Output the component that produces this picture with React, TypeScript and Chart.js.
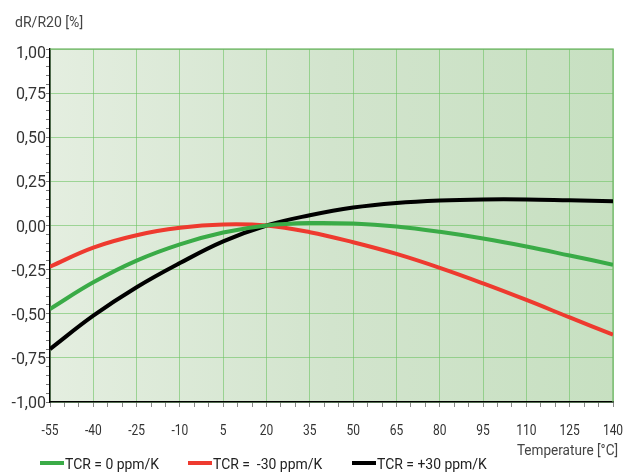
import { useEffect, useRef } from 'react';
import { Chart, registerables } from 'chart.js';

Chart.register(...registerables);

const temperatures = [-55, -40, -25, -10, 5, 20, 35, 50, 65, 80, 95, 110, 125, 140];
const tcrZero = [-0.473, -0.322, -0.199, -0.107, -0.04, 0, 0.014, 0.011, -0.006, -0.036, -0.074, -0.119, -0.17, -0.222];
const tcrMinus30 = [-0.233, -0.125, -0.055, -0.013, 0.006, 0, -0.038, -0.095, -0.161, -0.24, -0.328, -0.422, -0.521, -0.619];
const tcrPlus30 = [-0.7, -0.511, -0.35, -0.213, -0.09, 0, 0.058, 0.102, 0.128, 0.142, 0.148, 0.148, 0.143, 0.138];

const seriesLabels = ['TCR = 0 ppm/K', 'TCR =  -30 ppm/K', 'TCR = +30 ppm/K'];
const seriesColors = ['#3aab47', '#ee3a2f', '#000000'];
const seriesValues = [tcrZero, tcrMinus30, tcrPlus30];

const xTickValues = [-55, -40, -25, -10, 5, 20, 35, 50, 65, 80, 95, 110, 125, 140];
const xTickLabels = ['-55', '-40', '-25', '-10', '5', '20', '35', '50', '65', '80', '95', '110', '125', '140'];
const yTickValues = [1, 0.75, 0.5, 0.25, 0, -0.25, -0.5, -0.75, -1];
const yTickLabels = ['1,00', '0,75', '0,50', '0,25', '0,00', '-0,25', '-0,50', '-0,75', '-1,00'];

const yAxisTitle = 'dR/R20 [%]';
const xAxisTitle = 'Temperature [°C]';

const FONT = "Roboto, 'Liberation Sans', sans-serif";
const GRID = 'rgba(110, 195, 100, 0.6)';

const legendPos = [
  { line: 40, text: 65 },
  { line: 188, text: 213 },
  { line: 352, text: 377 },
];

function drawText(ctx: CanvasRenderingContext2D, text: string, x: number, y: number, align: 'left' | 'right' | 'center', size: number, sx: number, color: string) {
  ctx.save();
  ctx.font = `${size}px ${FONT}`;
  ctx.fillStyle = color;
  ctx.textBaseline = 'alphabetic';
  ctx.textAlign = 'left';
  const w = ctx.measureText(text).width * sx;
  let left = x;
  if (align === 'right') left = x - w;
  if (align === 'center') left = x - w / 2;
  ctx.translate(left, y);
  ctx.scale(sx, 1);
  ctx.fillText(text, 0, 0);
  ctx.restore();
}

const isMajor = (v: number, step: number, offset: number) => Math.abs((v - offset) / step - Math.round((v - offset) / step)) < 1e-6;

export default function App() {
  const ref = useRef<HTMLCanvasElement>(null);

  useEffect(() => {
    if (!ref.current) return;

    const decor = {
      id: 'decor',
      beforeDraw(chart: any) {
        const { ctx, chartArea: a } = chart;
        ctx.save();
        const g = ctx.createLinearGradient(a.left, 0, a.right, 0);
        g.addColorStop(0, '#e4eee0');
        g.addColorStop(0.5, '#d2e4cd');
        g.addColorStop(1, '#c7e0c1');
        ctx.fillStyle = g;
        ctx.fillRect(a.left, a.top, a.right - a.left, a.bottom - a.top);
        ctx.restore();
      },
      beforeDatasetsDraw(chart: any) {
        const { ctx, chartArea: a } = chart;
        ctx.save();
        ctx.strokeStyle = 'rgba(110, 180, 100, 0.8)';
        ctx.lineWidth = 1.5;
        ctx.beginPath();
        ctx.moveTo(a.left, a.top);
        ctx.lineTo(a.right, a.top);
        ctx.lineTo(a.right, a.bottom);
        ctx.stroke();
        ctx.restore();
      },
      afterDraw(chart: any) {
        const { ctx } = chart;
        const xs = chart.scales.x;
        const ys = chart.scales.y;
        xTickValues.forEach((v, i) => {
          drawText(ctx, xTickLabels[i], xs.getPixelForValue(v), 435, 'center', 15, 0.8, '#333');
        });
        yTickValues.forEach((v, i) => {
          const py = ys.getPixelForValue(v);
          drawText(ctx, yTickLabels[i], 46, Math.max(py + 6, 58), 'right', 16, 1, '#333');
        });
        drawText(ctx, yAxisTitle, 15, 27, 'left', 14.5, 0.97, '#444');
        drawText(ctx, xAxisTitle, 618, 455, 'right', 14, 0.97, '#444');
        seriesLabels.forEach((lab, i) => {
          ctx.save();
          ctx.fillStyle = seriesColors[i];
          ctx.fillRect(legendPos[i].line, 461, 24, 4);
          ctx.restore();
          drawText(ctx, lab, legendPos[i].text, 469, 'left', 15.5, 0.9, '#222');
        });
      },
    };

    const chart = new Chart(ref.current, {
      type: 'line',
      data: {
        datasets: seriesValues.map((vals, i) => ({
          label: seriesLabels[i],
          data: temperatures.map((t, j) => ({ x: t, y: vals[j] })),
          borderColor: seriesColors[i],
          backgroundColor: seriesColors[i],
          borderWidth: 4,
          pointRadius: 0,
          tension: 0.4,
          fill: false,
        })),
      },
      options: {
        animation: false,
        responsive: true,
        maintainAspectRatio: false,
        layout: { padding: { top: 49, right: 12, left: 0, bottom: 0 } },
        plugins: { legend: { display: false }, tooltip: { enabled: false } },
        scales: {
          x: {
            type: 'linear',
            min: -55,
            max: 140,
            afterFit(scale: any) {
              scale.height = 71;
              scale.paddingLeft = 0;
              scale.paddingRight = 0;
            },
            ticks: {
              stepSize: 5,
              autoSkip: false,
              maxRotation: 0,
              minRotation: 0,
              padding: 0,
              font: { size: 1 },
              callback: () => '',
            },
            grid: {
              color: (c: any) => (isMajor(c.tick?.value ?? 0, 15, -55) ? GRID : 'rgba(0,0,0,0)'),
              tickColor: '#888',
              tickLength: 5,
            },
            border: { color: '#000', width: 1.5 },
          },
          y: {
            type: 'linear',
            min: -1,
            max: 1,
            afterFit(scale: any) {
              scale.width = 50;
              scale.paddingTop = 0;
              scale.paddingBottom = 0;
            },
            ticks: {
              stepSize: 0.05,
              autoSkip: false,
              padding: 0,
              font: { size: 1 },
              callback: () => '',
            },
            grid: {
              color: (c: any) => (isMajor(c.tick?.value ?? 0, 0.25, 0) ? GRID : 'rgba(0,0,0,0)'),
              tickColor: '#777',
              tickLength: 4,
            },
            border: { color: '#000', width: 1.5 },
          },
        },
      },
      plugins: [decor],
    } as any);

    return () => chart.destroy();
  }, []);

  return (
    <div style={{ position: 'absolute', left: 0, top: 0, width: 625, height: 473, background: '#fff' }}>
      <canvas ref={ref} />
    </div>
  );
}
